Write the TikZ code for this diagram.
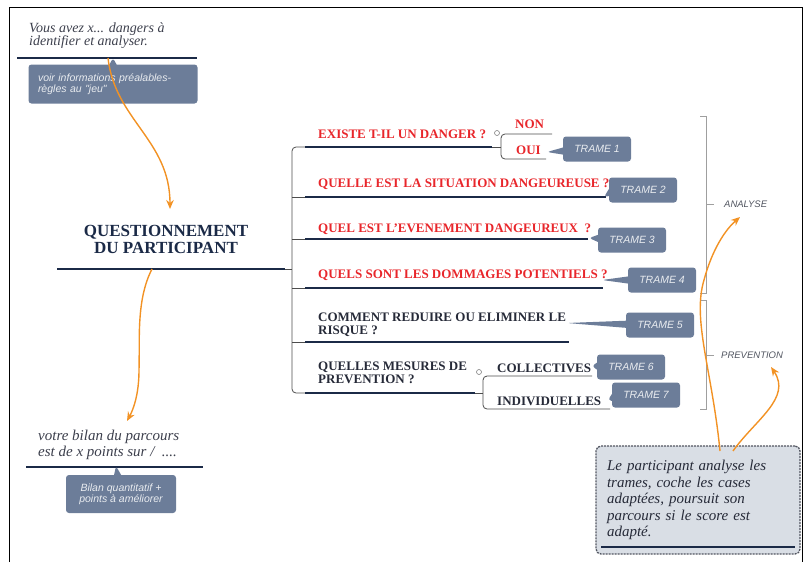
\documentclass[tikz,border=0pt]{standalone}
\usepackage{fontspec}
\setmainfont{Liberation Serif}
\newfontfamily\boxfont{Liberation Sans}
\usetikzlibrary{arrows.meta, positioning, shapes, shapes.callouts}

\definecolor{navy}{HTML}{1B2A47}
\definecolor{qred}{HTML}{E8262B}
\definecolor{qdark}{HTML}{262A38}
\definecolor{trameblue}{HTML}{6C7D99}
\definecolor{orangeflow}{HTML}{F29224}
\definecolor{notegray}{HTML}{D9DEE5}

\tikzset{
        >={Stealth[length=9pt,width=7.5pt]}, % arrow heads of the orange links
        x=1pt, y=-1pt, % one unit = one pixel of the sketch
    }
\tikzstyle{question}=[anchor=base west, inner sep=0pt, align=left, text=qred, font=\fontsize{13}{13}\selectfont\bfseries]
\tikzstyle{answer}=[question, text=qdark]
\tikzstyle{intro}=[anchor=base west, inner sep=0pt, align=left, text=qdark!90, font=\fontsize{14}{13}\selectfont\itshape]
\tikzstyle{uline}=[navy, line width=2.8pt]
\tikzstyle{branch}=[gray!60!black, line width=0.8pt, rounded corners=4pt]
\tikzstyle{toggle}=[circle, draw=gray, fill=white, line width=0.6pt, minimum size=5pt, inner sep=0pt]
\tikzstyle{trame}=[rectangle callout, fill=trameblue, rounded corners=3pt, minimum width=68pt, minimum height=25pt, text=white!85!trameblue, font=\boxfont\itshape\fontsize{10.5}{11}\selectfont]
\tikzstyle{infobox}=[trame, align=left, text width=150pt, inner xsep=9.5pt, minimum height=39pt]
\tikzstyle{bracket}=[gray!75, line width=1pt]
\tikzstyle{phase}=[anchor=west, inner sep=0pt, text=qdark!80, font=\boxfont\itshape\fontsize{9.5}{10}\selectfont]
\tikzstyle{flow}=[->, orangeflow, line width=1.4pt]

\begin{document}
\begin{tikzpicture}
    \useasboundingbox (0,0) rectangle (805,562);
    \draw[black, line width=1pt] (9,562) -- (9,7) -- (802,7) -- (802,562);

    % top left (base = last line)
    \node[infobox, callout absolute pointer={(113,58)}] (infos) at (113,84) {voir informations préalables-\\règles au "jeu"};
    \node[intro] (vous) at (29,45) {Vous avez x... dangers à\\identifier et analyser.};
    \draw[uline] (17,58) -- (197,58);
    \coordinate (topline) at (108,58);

    % centre
    \node[anchor=base, inner sep=0pt, align=center, text=navy, font=\fontsize{17}{17}\selectfont\bfseries] (quest) at (166,253) {QUESTIONNEMENT\\DU PARTICIPANT};
    \draw[uline] (57,269) -- (285,269);
    \coordinate (questtop) at (170,209);
    \coordinate (rootline) at (152,269);

    % questions
    \node[question] (q1) at (318,138) {EXISTE T-IL UN DANGER ?};
    \node[question] (non) at (515,128) {NON};
    \node[question] (oui) at (516,154) {OUI};
    \node[question] (q2) at (318,187) {QUELLE EST LA SITUATION DANGEUREUSE ?};
    \node[question] (q3) at (318,232) {QUEL EST L’EVENEMENT DANGEUREUX~~?};
    \node[question] (q4) at (318,278) {QUELS SONT LES DOMMAGES POTENTIELS ?};
    \node[answer] (q5) at (318,334) {COMMENT REDUIRE OU ELIMINER LE\\RISQUE ?};
    \node[answer] (q6) at (318,383) {QUELLES MESURES DE\\PREVENTION ?};
    \node[answer] (coll) at (497,372) {COLLECTIVES};
    \node[answer] (indiv) at (497,405) {INDIVIDUELLES};

    \coordinate (u1) at (305,147);
    \coordinate (u2) at (305,197);
    \coordinate (u3) at (305,239);
    \coordinate (u4) at (305,288);
    \coordinate (u5) at (305,342);
    \coordinate (u6) at (305,393);
    \draw[uline] (u1) -- (492,147);
    \draw[uline] (u2) -- (606,197);
    \draw[uline] (u3) -- (588,239);
    \draw[uline] (u4) -- (603,288);
    \draw[uline] (u5) -- (569,342);
    \draw[uline] (u6) -- (475,393);

    \draw[branch] (u1) -| (292,393) -- (u6);
    \draw[branch] (292,197) -- (u2);
    \draw[branch] (292,239) -- (u3);
    \draw[branch] (292,288) -- (u4);
    \draw[branch] (292,342) -- (u5);
    \draw[branch] (285,269) -- (292,269);

    \draw[branch] (492,147) -- (501,147);
    \draw[branch] (552,134) -- (501,134) -- (501,159) -- (546,159);
    \node[toggle] (c1) at (497,133) {};
    \draw[branch] (475,393) -- (483,393);
    \draw[branch] (592,376) -- (483,376) -- (483,409) -- (610,409);
    \node[toggle] (c6) at (479,372) {};

    % trames
    \node[trame, callout absolute pointer={(547,152)}] (t1) at (597,149) {TRAME 1};
    \node[trame, callout absolute pointer={(604,197)}] (t2) at (643,190) {TRAME 2};
    \node[trame, callout absolute pointer={(589,238)}] (t3) at (632,240) {TRAME 3};
    \node[trame, callout absolute pointer={(602,280)}] (t4) at (662,280) {TRAME 4};
    \node[trame, callout absolute pointer={(567,323)}] (t5) at (660,325) {TRAME 5};
    \node[trame, callout absolute pointer={(592,366)}] (t6) at (631,367) {TRAME 6};
    \node[trame, callout absolute pointer={(608,400)}] (t7) at (646,395) {TRAME 7};

    % phases
    \draw[bracket] (700,116) -- (706,116) -- (706,293) -- (700,293);
    \draw[bracket] (706,204) -- (714,204);
    \node[phase] (analyse) at (724,204) {ANALYSE};
    \draw[bracket] (700,300) -- (706,300) -- (706,409) -- (700,409);
    \draw[bracket] (706,355) -- (714,355);
    \node[phase] (prevention) at (721,355) {PREVENTION};

    % bottom left
    \node[intro, font=\fontsize{15}{16}\selectfont\itshape] (bilan) at (38,456) {votre bilan du parcours\\est de x points sur /~~....};
    \draw[uline] (26,467) -- (203,467);
    \node[trame, align=center, minimum width=110pt, minimum height=38pt, callout absolute pointer={(116,466)}] (bilanbox) at (121,494) {Bilan quantitatif +\\points à améliorer};
    \coordinate (bilantop) at (127,421);

    % bottom right
    \node[draw=qdark!80, dashed, dash pattern=on 2pt off 1pt, line width=1.3pt, rounded corners=5pt, fill=notegray, minimum width=204pt, minimum height=108pt, text width=182pt, align=left, text=qdark, font=\fontsize{15}{16.5}\selectfont\itshape] (note) at (698,500) {Le participant analyse les\\trames, coche les cases\\adaptées, poursuit son\\parcours si le score est\\adapté.};
    \draw[uline] (601,547) -- (795,547);
    \coordinate (note1) at (720,451);
    \coordinate (note2) at (733,451);
    \coordinate (analysetip) at (740,217);
    \coordinate (preventiontip) at (771,367);

    % links
    \draw[flow] (topline) .. controls (115,120) and (170,140) .. (questtop);
    \draw[flow] (rootline) .. controls (136,300) and (140,340) .. (139,370) .. controls (139,395) and (133,410) .. (bilantop);
    \draw[flow] (note1) .. controls (712,370) and (692,320) .. (704,280) .. controls (712,250) and (725,230) .. (analysetip);
    \draw[flow] (note2) .. controls (755,420) and (792,398) .. (preventiontip);
\end{tikzpicture}
\end{document}
